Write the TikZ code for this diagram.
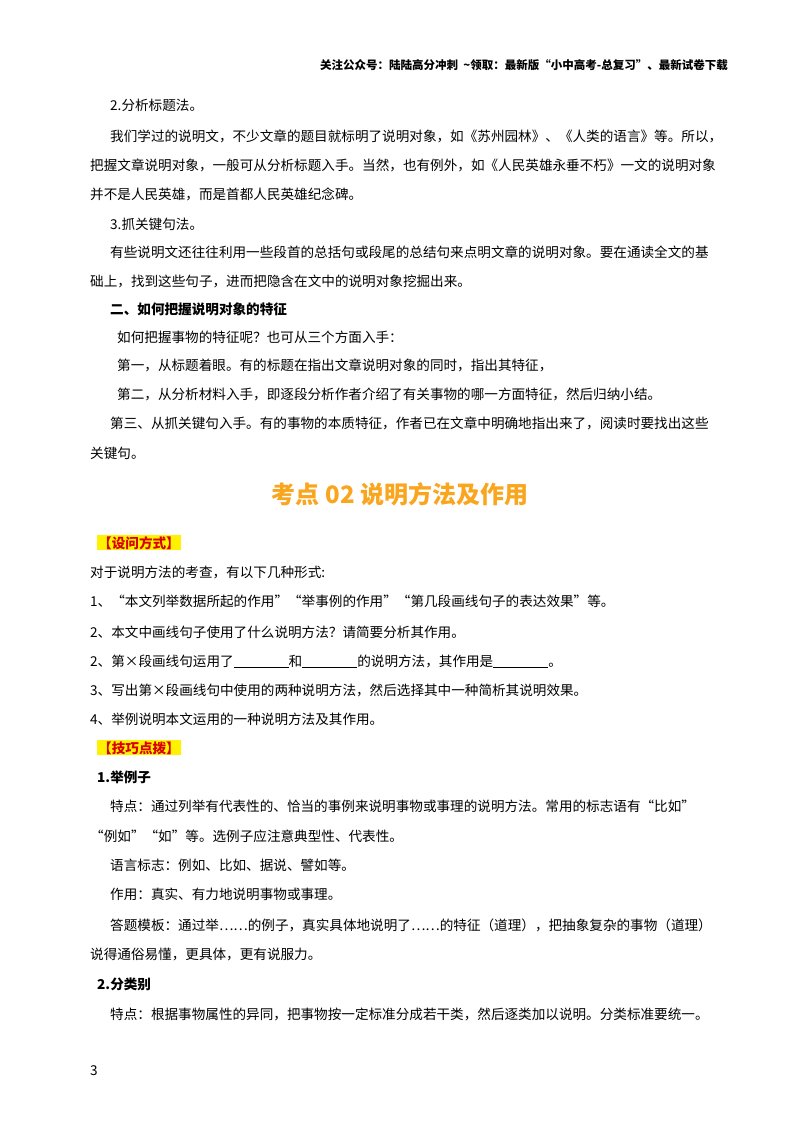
\documentclass[tikz,border=0pt]{standalone}
\usepackage{fontspec}
\setmainfont{Noto Sans CJK SC}
\begin{document}
\begin{tikzpicture}[x=1pt,y=-1pt,
 t/.style={anchor=base west,inner sep=0pt,font=\fontsize{13.6}{16}\selectfont},
 b/.style={t,font=\fontsize{13.6}{16}\selectfont\bfseries},
 hl/.style={anchor=base west,inner sep=1pt,fill=yellow,text=red!85!black,font=\fontsize{13.6}{16}\selectfont\bfseries}]
\useasboundingbox (0,0) rectangle (800,1132);
\node[anchor=base east,inner sep=0pt,font=\fontsize{11.5}{14}\selectfont\bfseries] (h) at (728,70) {关注公众号：陆陆高分冲刺\ \ \textasciitilde 领取：最新版“小中高考-总复习”、最新试卷下载};
\node[t] (l1) at (110,110) {2.分析标题法。};
\node[t] (l2) at (110,141) {我们学过的说明文，不少文章的题目就标明了说明对象，如《苏州园林》、《人类的语言》等。所以，};
\node[t] (l3) at (90,170) {把握文章说明对象，一般可从分析标题入手。当然，也有例外，如《人民英雄永垂不朽》一文的说明对象};
\node[t] (l4) at (90,199) {并不是人民英雄，而是首都人民英雄纪念碑。};
\node[t] (l5) at (110,229) {3.抓关键句法。};
\node[t] (l6) at (110,257) {有些说明文还往往利用一些段首的总括句或段尾的总结句来点明文章的说明对象。要在通读全文的基};
\node[t] (l7) at (90,286) {础上，找到这些句子，进而把隐含在文中的说明对象挖掘出来。};
\node[b] (l8) at (110,314) {二、如何把握说明对象的特征};
\node[t] (l9) at (117,342) {如何把握事物的特征呢？也可从三个方面入手：};
\node[t] (l10) at (117,370) {第一，从标题着眼。有的标题在指出文章说明对象的同时，指出其特征，};
\node[t] (l11) at (117,399) {第二，从分析材料入手，即逐段分析作者介绍了有关事物的哪一方面特征，然后归纳小结。};
\node[t] (l12) at (110,428) {第三、从抓关键句入手。有的事物的本质特征，作者已在文章中明确地指出来了，阅读时要找出这些};
\node[t] (l13) at (90,458) {关键句。};
\node[anchor=base,inner sep=0pt,text={rgb,255:red,250;green,165;blue,30},font=\fontsize{24}{28}\selectfont\bfseries] (title) at (400,503) {考点 02 说明方法及作用};
\node[hl] (s1) at (97,548) {【设问方式】};
\node[t] (l14) at (90,577) {对于说明方法的考查，有以下几种形式:};
\node[t] (l15) at (90,606) {1、“本文列举数据所起的作用”“举事例的作用”“第几段画线句子的表达效果”等。};
\node[t] (l16) at (90,637) {2、本文中画线句子使用了什么说明方法？请简要分析其作用。};
\node[t] (l17) at (90,666) {2、第×段画线句运用了\underline{\hspace{55pt}}和\underline{\hspace{55pt}}的说明方法，其作用是\underline{\hspace{55pt}}。};
\node[t] (l18) at (90,695) {3、写出第×段画线句中使用的两种说明方法，然后选择其中一种简析其说明效果。};
\node[t] (l19) at (90,724) {4、举例说明本文运用的一种说明方法及其作用。};
\node[hl] (s2) at (97,753) {【技巧点拨】};
\node[b] (l20) at (97,782) {1.举例子};
\node[t] (l21) at (110,811) {特点：通过列举有代表性的、恰当的事例来说明事物或事理的说明方法。常用的标志语有“比如”};
\node[t] (l22) at (90,841) {“例如”“如”等。选例子应注意典型性、代表性。};
\node[t] (l23) at (110,870) {语言标志：例如、比如、据说、譬如等。};
\node[t] (l24) at (110,899) {作用：真实、有力地说明事物或事理。};
\node[t] (l25) at (110,930) {答题模板：通过举……的例子，真实具体地说明了……的特征（道理），把抽象复杂的事物（道理）};
\node[t] (l26) at (90,959) {说得通俗易懂，更具体，更有说服力。};
\node[b] (l27) at (97,989) {2.分类别};
\node[t] (l28) at (110,1019) {特点：根据事物属性的异同，把事物按一定标准分成若干类，然后逐类加以说明。分类标准要统一。};
\node[t] (pg) at (90,1075) {3};
\end{tikzpicture}
\end{document}
